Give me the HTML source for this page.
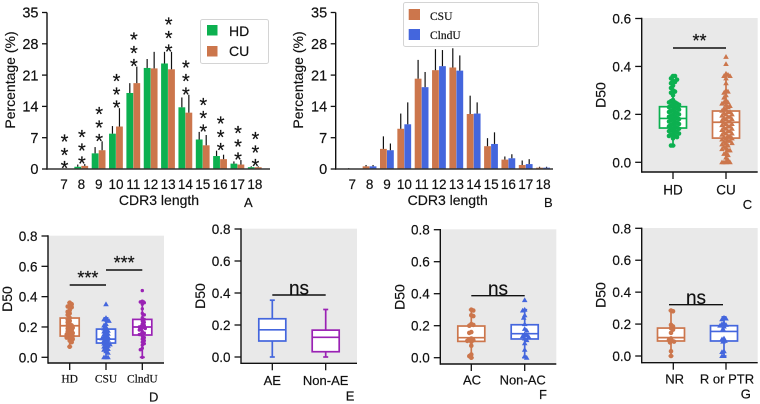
<!DOCTYPE html>
<html lang="en">
<head>
<meta charset="utf-8">
<title>CDR3 length and D50 charts</title>
<style>
html,body{margin:0;padding:0;background:#fff;}
svg{display:block;font-family:"Liberation Sans",sans-serif;}
svg text{stroke:#111;stroke-width:.18px;}
.serif{font-family:"Liberation Serif",serif;}
</style>
</head>
<body>
<svg id="figure" xmlns="http://www.w3.org/2000/svg" width="760" height="404" viewBox="0 0 760 404"></svg>
<script>
// ---- Bar chart data ----
const cdr3Lengths = ['7','8','9','10','11','12','13','14','15','16','17','18'];
const percentTicks = [0,7,14,21,28,35];
const d50Ticks6 = ['0.0','0.2','0.4','0.6'];
const d50Ticks8 = ['0.0','0.2','0.4','0.6','0.8'];

const hdPercent = [0,0.5,3.5,7.9,17.0,22.6,23.6,13.8,6.6,2.9,1.2,0.4];
const cuPercent = [0.1,0.7,4.2,9.5,19.2,22.5,22.3,12.6,5.3,2.2,1.0,0.4];
const hdErrorTop = [0,1.0,4.9,9.6,19.2,24.6,26.2,16.0,8.3,4.1,1.7,0.6];
const cuErrorTop = [0.1,1.1,6.2,13.6,22.9,26.2,26.2,16.6,7.6,3.2,2.0,0.6];
const starFlags = [1,1,1,1,1,0,1,1,1,1,1,1];

const csuPercent = [0.1,0.6,4.5,9.0,20.2,22.1,22.7,12.3,5.1,2.1,0.9,0.3];
const clnduPercent = [0,0.6,4.2,10.0,18.3,23.0,22.0,12.4,5.6,2.4,1.1,0.3];
const csuErrorTop = [0.2,0.9,7.3,12.4,24.4,26.8,27.0,16.4,6.9,2.8,1.9,0.5];
const clnduErrorTop = [0,0.9,5.7,14.9,21.7,26.6,25.4,14.9,8.2,3.3,2.2,0.5];

// ---- D50 points ----
const panelCHd = [.36,.36,.35,.345,.34,.335,.33,.32,.31,.30,.295,.29,.28,.26,.255,.25,.25,.245,.24,.24,.235,.23,.23,.225,.22,.22,.215,.21,.21,.205,.20,.20,.195,.19,.19,.185,.18,.18,.175,.17,.17,.165,.16,.16,.155,.15,.15,.145,.14,.14,.135,.13,.13,.125,.12,.12,.115,.11,.11,.105,.10,.07,.07];
const panelCCu = [.44,.41,.37,.365,.36,.36,.35,.33,.30,.295,.29,.28,.27,.26,.25,.25,.245,.24,.235,.23,.225,.22,.215,.21,.21,.205,.20,.20,.195,.19,.19,.185,.18,.18,.175,.17,.17,.165,.16,.16,.155,.15,.15,.145,.14,.14,.135,.13,.13,.125,.12,.12,.115,.11,.11,.105,.10,.10,.095,.09,.09,.085,.08,.08,.075,.07,.065,.06,.055,.05,.05,.04,.035,.03,.02,.01,0,0,0,0];
const panelDHd = [.36,.35,.34,.335,.33,.31,.30,.29,.28,.26,.25,.24,.23,.22,.21,.21,.20,.195,.19,.18,.18,.17,.165,.16,.155,.15,.145,.14,.135,.13,.125,.12,.11,.10,.07];
const panelDCsu = [.35,.26,.25,.245,.24,.22,.21,.20,.19,.18,.175,.17,.16,.155,.15,.14,.135,.13,.125,.12,.115,.11,.10,.095,.09,.085,.08,.075,.07,.06,.055,.05,.04,.03,0,0,0];
const panelDClndu = [.44,.37,.365,.36,.35,.32,.29,.28,.26,.25,.24,.23,.22,.21,.205,.20,.195,.19,.185,.18,.17,.16,.155,.15,.14,.13,.12,.11,.10,.09,.08,.06,.05,0];
const panelEAe = [];
const panelENonAe = [];
const panelFAc = [.30,.295,.265,.26,.21,.205,.20,.16,.155,.12,.115,.11,.105,.10,.075,.02,.01,0];
const panelFNonAc = [.36,.30,.295,.265,.25,.21,.18,.17,.145,.14,.135,.13,.12,.11,.09,.05,.01,0];
const panelGNr = [.285,.28,.195,.185,.175,.165,.145,.11,.10,.095,.09,.085,.03,0];
const panelGPtr = [.24,.235,.23,.205,.20,.195,.19,.185,.17,.11,.105,.095,.09,.03,.025,0,0];

// ---- Box statistics: low whisker, q1, median, q3, high whisker ----
const boxCHd = [.07,.143,.183,.232,.36];
const boxCCu = [0,.101,.167,.214,.365];
const boxDHd = [.07,.14,.208,.259,.36];
const boxDCsu = [0,.094,.12,.186,.26];
const boxDClndu = [0,.147,.20,.25,.37];
const boxEAe = [0,.10,.17,.239,.355];
const boxENonAe = [0,.033,.123,.168,.297];
const boxFAc = [0,.102,.125,.198,.30];
const boxFNonAc = [0,.117,.15,.206,.30];
const boxGNr = [0,.094,.115,.175,.285];
const boxGPtr = [0,.094,.154,.19,.245];

const GREEN = '#0cb050', ORANGE = '#cc764c', BLUE = '#4466dd', PURPLE = '#9a22b4', INK = '#111';
const svg = document.getElementById('figure');
const NS = 'http://www.w3.org/2000/svg';

function add(tag, attrs, name, parent) {
  const node = document.createElementNS(NS, tag);
  for (const k in attrs) node.setAttribute(k, attrs[k]);
  
  
  (parent || svg).appendChild(node);
  return node;
}
function label(str, x, y, size, anchor, name, extra) {
  const a = Object.assign({x: x, y: y, 'font-size': size, 'text-anchor': anchor, fill: INK}, extra || {});
  const t = add('text', a, name);
  t.textContent = str;
  return t;
}
function line(x1, y1, x2, y2, color, w, name) {
  return add('line', {x1: x1, y1: y1, x2: x2, y2: y2, stroke: color, 'stroke-width': w}, name);
}
function vTitle(str, cx, cy, name) {
  return label(str, 0, 0, 14, 'middle', name, {transform: 'translate(' + (cx + 5) + ',' + cy + ') rotate(-90)'});
}

// ---- Bar panels ----
function barPanel(cfg) {
  const yOf = v => cfg.y0 - v * (cfg.y0 - cfg.yTop) / 35;
  const xOf = i => cfg.x7 + i * 17.35;
  cdr3Lengths.forEach((c, i) => {
    const cx = xOf(i);
    [[cfg.a, cfg.aErr, cfg.aColor, -7, cfg.aName], [cfg.b, cfg.bErr, cfg.bColor, 0, cfg.bName]].forEach(s => {
      const v = s[0][i];
      if (v > 0) add('rect', {x: cx + s[3], y: yOf(v), width: 6.8, height: cfg.y0 - yOf(v), fill: s[2]}, s[4] + '-bar-' + c);
      if (s[1][i] > v) line(cx + s[3] + 3.4, yOf(v), cx + s[3] + 3.4, yOf(s[1][i]), '#111', 1.2, s[4] + '-error-bar-' + c);
    });
    label(c, cx, cfg.y0 + 20, 13.5, 'middle', 'x-tick-label-' + c);
  });
  line(cfg.ax, cfg.yTop, cfg.ax, cfg.y0 + 0.7, INK, 1.4, 'y-axis');
  line(cfg.ax, cfg.y0, cfg.axEnd, cfg.y0, '#333', 1.4, 'x-axis');
  percentTicks.forEach(t => {
    line(cfg.ax - 5, yOf(t), cfg.ax, yOf(t), INK, 1.3, 'y-tick-' + t);
    label(String(t), cfg.ax - 8.5, yOf(t) + 5.2, 14.5, 'end', 'y-tick-label-' + t);
  });
  vTitle('Percentage (%)', cfg.titleX, 80, 'y-axis-title');
  label('CDR3 length', cfg.titleCx, 205, 14, 'middle', 'x-axis-title');
}

barPanel({ax:47, axEnd:270, x7:64, y0:169, yTop:12.5, titleX:10, titleCx:159,
  a:hdPercent, aErr:hdErrorTop, aColor:GREEN, aName:'hd',
  b:cuPercent, bErr:cuErrorTop, bColor:ORANGE, bName:'cu'});
barPanel({ax:335.7, axEnd:553, x7:352.3, y0:169, yTop:12.5, titleX:298, titleCx:447.7,
  a:csuPercent, aErr:csuErrorTop, aColor:ORANGE, aName:'csu',
  b:clnduPercent, bErr:clnduErrorTop, bColor:BLUE, bName:'clndu'});

// significance stars above panel A bars
cdr3Lengths.forEach((c, i) => {
  if (!starFlags[i]) return;
  const top = Math.max(hdErrorTop[i], cuErrorTop[i]);
  const yBase = 169 - top * 156.5 / 35 - 5;
  [0, 1, 2].forEach(k => {
    label('*', 64 + i * 17.35 + 0.5, yBase - k * 13.3 + 11.5, 20, 'middle', 'significance-star-' + c);
  });
});

// Legends
add('rect', {x:200.5, y:19.5, width:68, height:44, rx:2, fill:'#fff', stroke:'#d4d4d4', 'stroke-width':1}, 'legend-box');
add('rect', {x:207, y:25, width:10.5, height:10.5, fill:GREEN}, 'legend-swatch-hd');
add('rect', {x:207, y:46, width:10.5, height:10.5, fill:ORANGE}, 'legend-swatch-cu');
label('HD', 229, 36, 14, 'start', 'legend-label-hd');
label('CU', 229, 56, 14, 'start', 'legend-label-cu');

add('rect', {x:403.5, y:2.5, width:135, height:44, rx:2, fill:'#fff', stroke:'#d4d4d4', 'stroke-width':1}, 'legend-box');
add('rect', {x:408.7, y:9, width:11.3, height:11, fill:ORANGE}, 'legend-swatch-csu');
add('rect', {x:408.7, y:29, width:11.3, height:11, fill:BLUE}, 'legend-swatch-clndu');
label('CSU', 430, 20, 11.5, 'start', 'legend-label-csu', {class:'serif'});
label('ClndU', 430, 39, 11.5, 'start', 'legend-label-clndu', {class:'serif'});

// ---- Box panels ----
function swarm(values, maxW, d) {
  const placed = [];
  return values.map(function (v, idx) {
    let best = 0, bestScore = Infinity;
    for (let k = 0; k <= 2 * Math.floor(maxW); k++) {
      const off = (k % 2 ? 1 : -1) * Math.ceil(k / 2) * (idx % 2 ? 1 : -1);
      let overlap = 0;
      placed.forEach(q => {
        const dx = q.x - off, dy = q.py - v * 100;
        if (dx * dx + dy * dy < d * d) overlap++;
      });
      if (overlap === 0) { best = off; bestScore = 0; break; }
      if (overlap < bestScore) { bestScore = overlap; best = off; }
    }
    placed.push({x: best, py: v * 100});
    return best;
  });
}
function marker(kind, x, y, color, name) {
  if (kind === 'tri') {
    add('path', {d: 'M' + x + ' ' + (y - 2.8) + 'L' + (x + 2.8) + ' ' + (y + 2) + 'L' + (x - 2.8) + ' ' + (y + 2) + 'Z', fill: color}, name);
  } else if (kind === 'small') {
    add('circle', {cx: x, cy: y, r: 1.7, fill: color}, name);
  } else {
    add('circle', {cx: x, cy: y, r: 2.3, fill: color}, name);
  }
}
function boxPanel(cfg) {
  add('rect', {x: cfg.left, y: cfg.top, width: cfg.right - cfg.left, height: cfg.bottom - cfg.top, fill: '#e9e9e9'}, cfg.id + '-plot-background');
  const yOf = v => cfg.y0 - v * (cfg.y0 - cfg.yMax) / cfg.maxVal;
  cfg.groups.forEach(g => {
    const s = g.box, w = cfg.boxW / 2;
    add('rect', {x: g.x - w, y: yOf(s[3]), width: cfg.boxW, height: yOf(s[1]) - yOf(s[3]), fill: '#fff', stroke: g.color, 'stroke-width': 1.7}, cfg.id + '-box-' + g.name);
    line(g.x, yOf(s[0]), g.x, yOf(s[1]), g.color, 1.7, cfg.id + '-whisker-low-' + g.name);
    line(g.x, yOf(s[3]), g.x, yOf(s[4]), g.color, 1.7, cfg.id + '-whisker-high-' + g.name);
    line(g.x - 2.5, yOf(s[0]), g.x + 2.5, yOf(s[0]), g.color, 1.7, cfg.id + '-cap-low-' + g.name);
    line(g.x - 2.5, yOf(s[4]), g.x + 2.5, yOf(s[4]), g.color, 1.7, cfg.id + '-cap-high-' + g.name);
    const offs = swarm(g.points, cfg.spread, cfg.gap);
    g.points.forEach((v, i) => marker(g.marker, g.x + offs[i], yOf(v), g.color, cfg.id + '-point-' + g.name));
    line(g.x - w, yOf(s[2]), g.x + w, yOf(s[2]), g.color, 1.7, cfg.id + '-median-' + g.name);
    const tx = g.tx === undefined ? g.x : g.tx;
    line(tx, cfg.bottom, tx, cfg.bottom + 7, INK, 1.3, cfg.id + '-x-tick-' + g.name);
    const extra = cfg.serif ? {class: 'serif'} : {};
    label(g.name, g.lx === undefined ? g.x : g.lx, cfg.labelY, cfg.serif ? 11.5 : cfg.labelSize, 'middle', cfg.id + '-x-label-' + g.name, extra);
  });
  line(cfg.left, cfg.yMax - 0.7, cfg.left, cfg.bottom + 0.7, INK, 1.4, cfg.id + '-y-axis');
  line(cfg.left, cfg.bottom, cfg.right, cfg.bottom, INK, 1.4, cfg.id + '-x-axis');
  cfg.ticks.forEach(t => {
    const v = parseFloat(t);
    line(cfg.left - 6.5, yOf(v), cfg.left, yOf(v), INK, 1.3, cfg.id + '-y-tick-' + t);
    label(t, cfg.left - 10.5, yOf(v) + 5, 13.5, 'end', cfg.id + '-y-label-' + t);
  });
  vTitle('D50', cfg.titleX, cfg.titleY, cfg.id + '-y-axis-title');
  (cfg.brackets || []).forEach(b => {
    line(b.x1, b.y, b.x2, b.y, INK, 1.4, cfg.id + '-significance-bracket');
    if (b.ns) {
      label(b.text, (b.x1 + b.x2) / 2, b.y - 0.5, 19, 'middle', cfg.id + '-ns-label');
    } else {
      label(b.text, (b.x1 + b.x2) / 2, b.ty, 18, 'middle', cfg.id + '-significance-stars');
    }
  });
  label(cfg.letter, cfg.lx, cfg.ly, 13, 'start', cfg.id + '-panel-letter');
}

boxPanel({id:'panel-c', left:641.7, right:757.7, top:18, bottom:172, yMax:18.5, y0:162.3, maxVal:.6, ticks:d50Ticks6, boxW:27, spread:6, gap:1.9, labelY:194.7, labelSize:13.5,
  titleX:600.7, titleY:95, letter:'C', lx:742.7, ly:209,
  brackets:[{x1:673, x2:726, y:48, text:'**', ty:47}],
  groups:[{name:'HD', x:673, color:GREEN, marker:'dot', box:boxCHd, points:panelCHd},
          {name:'CU', x:726, color:ORANGE, marker:'tri', box:boxCCu, points:panelCCu}]});
boxPanel({id:'panel-d', left:48, right:164, top:235.7, bottom:363, yMax:236, y0:357.3, maxVal:.8, ticks:d50Ticks8, boxW:19, spread:5, gap:1.6, labelY:382.7, serif:true,
  titleX:7, titleY:299, letter:'D', lx:149, ly:401.7,
  brackets:[{x1:69.7, x2:106, y:285, text:'***', ty:284},{x1:106, x2:142.3, y:270, text:'***', ty:269}],
  groups:[{name:'HD', x:69.7, color:ORANGE, marker:'dot', box:boxDHd, points:panelDHd},
          {name:'CSU', x:106, color:BLUE, marker:'tri', box:boxDCsu, points:panelDCsu},
          {name:'ClndU', x:142.3, color:PURPLE, marker:'small', box:boxDClndu, points:panelDClndu}]});
boxPanel({id:'panel-e', left:241, right:357, top:228.7, bottom:363.3, yMax:229, y0:357, maxVal:.8, ticks:d50Ticks8, boxW:27, spread:5, gap:2, labelY:385, labelSize:13,
  titleX:200, titleY:296, letter:'E', lx:345.7, ly:400.7,
  brackets:[{x1:272.3, x2:325.7, y:295, text:'ns', ns:true}],
  groups:[{name:'AE', x:272.3, color:BLUE, marker:'dot', box:boxEAe, points:panelEAe},
          {name:'Non-AE', x:325.7, color:PURPLE, marker:'dot', box:boxENonAe, points:panelENonAe}]});
boxPanel({id:'panel-f', left:440.3, right:556.3, top:229.3, bottom:364, yMax:229.7, y0:357.7, maxVal:.8, ticks:d50Ticks8, boxW:27, spread:5, gap:1.6, labelY:384.7, labelSize:13,
  titleX:399.7, titleY:297, letter:'F', lx:539, ly:399,
  brackets:[{x1:471.3, x2:524.7, y:295.7, text:'ns', ns:true}],
  groups:[{name:'AC', x:471.3, lx:472, color:ORANGE, marker:'dot', box:boxFAc, points:panelFAc},
          {name:'Non-AC', x:524.7, lx:522.7, color:BLUE, marker:'tri', box:boxFNonAc, points:panelFNonAc}]});
boxPanel({id:'panel-g', left:641.7, right:757.7, top:228, bottom:362.7, yMax:228.3, y0:356, maxVal:.8, ticks:d50Ticks8, boxW:27, spread:5, gap:1.6, labelY:383.7, labelSize:13,
  titleX:600.7, titleY:295, letter:'G', lx:740.7, ly:398.7,
  brackets:[{x1:669, x2:723, y:304.7, text:'ns', ns:true}],
  groups:[{name:'NR', x:671, tx:673.3, lx:674.7, color:ORANGE, marker:'dot', box:boxGNr, points:panelGNr},
          {name:'R or PTR', x:724, tx:726, lx:727, color:BLUE, marker:'tri', box:boxGPtr, points:panelGPtr}]});

label('A', 244, 207, 13, 'start', 'panel-a-letter');
label('B', 544, 207, 13, 'start', 'panel-b-letter');
</script>
</body>
</html>
